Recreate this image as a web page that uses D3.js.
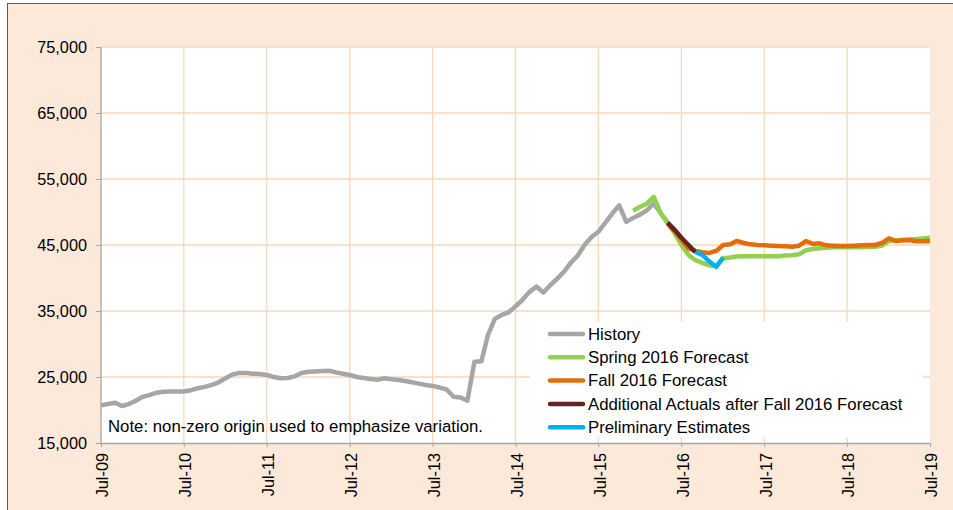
<!DOCTYPE html>
<html>
<head>
<meta charset="utf-8">
<script src="https://cdn.jsdelivr.net/npm/d3@7"></script>
<style>
  body { margin: 0; background: #fff; }
  svg { display: block; font-family: "Liberation Sans", Arial, sans-serif; }
</style>
</head>
<body>
<svg id="chart" width="953" height="510"></svg>
<script>
// Monthly values, first entry of each series is its start month.
const historyStart = [2009, 6];
const history = [
  20700, 20900, 21100, 20600, 20900, 21400, 22000, 22300, 22600, 22750, 22800, 22800,
  22800, 23000, 23300, 23500, 23800, 24200, 24800, 25400, 25600, 25600, 25500, 25450,
  25300, 25000, 24800, 24850, 25100, 25600, 25800, 25850, 25900, 25950, 25700, 25500,
  25300, 25000, 24850, 24700, 24600, 24800, 24650, 24550, 24400, 24200, 24000, 23800,
  23650, 23400, 23100, 22000, 21900, 21400, 27300, 27400, 31300, 33800, 34400, 34800,
  35700, 36700, 37900, 38700, 37800, 38900, 39900, 41000, 42300, 43400, 45000, 46200,
  47000, 48400, 49800, 51000, 48500, 49100, 49600, 50300, 51300, 49800, 48500
];

const springStart = [2015, 11];
const springForecast = [
  50200, 50800, 51300, 52300, 49800, 48300, 46800, 45000, 43500, 42700, 42300, 41900,
  41800, 43000, 43100, 43250, 43300, 43300, 43300, 43300, 43300, 43300, 43400, 43450,
  43600, 44200, 44400, 44500, 44600, 44650, 44650, 44650, 44650, 44650, 44700, 44750,
  44900, 45600, 45700, 45800, 45850, 45900, 46000, 46100
];

const fallStart = [2016, 4];
const fallForecast = [
  48300, 47100, 45800, 44500, 44100, 43900, 43800, 44100, 45000, 45100, 45600, 45300,
  45100, 45000, 44950, 44900, 44850, 44800, 44750, 44900, 45600, 45150, 45250, 44950,
  44900, 44850, 44850, 44900, 44950, 45000, 45000, 45300, 46000, 45600, 45700, 45750,
  45550, 45550, 45600
];

const actualsStart = [2016, 4];
const additionalActuals = [48400, 47300, 46100, 45000, 43900];

const prelimStart = [2016, 8];
const preliminary = [43900, 43500, 42500, 41700, 43100];

const yTicks = [15000, 25000, 35000, 45000, 55000, 65000, 75000];
const xTickYears = [2009, 2010, 2011, 2012, 2013, 2014, 2015, 2016, 2017, 2018, 2019];

const seriesList = [
  { name: 'History', start: historyStart, values: history, color: '#a6a6a6' },
  { name: 'Spring 2016 Forecast', start: springStart, values: springForecast, color: '#92d050' },
  { name: 'Fall 2016 Forecast', start: fallStart, values: fallForecast, color: '#e46c0a' },
  { name: 'Additional Actuals after Fall 2016 Forecast', start: actualsStart, values: additionalActuals, color: '#632523' },
  { name: 'Preliminary Estimates', start: prelimStart, values: preliminary, color: '#00b0f0' }
];

const svg = d3.select('#chart');
const margin = { left: 101, right: 23, top: 47, bottom: 67 };
const width = 953, height = 510;

// Outer frame
svg.append('rect')
  .attr('x', 7.5).attr('y', 3.5)
  .attr('width', width + 10).attr('height', height + 10)
  .attr('fill', '#fde9d9')
  .attr('stroke', '#595959');

let x = d3.scaleTime()
  .domain([new Date(2009, 6, 1), new Date(2019, 6, 1)])
  .range([margin.left, width - margin.right]);

let y = d3.scaleLinear()
  .domain([15000, 75000])
  .range([height - margin.bottom, margin.top]);

// Plot area
svg.append('rect')
  .attr('x', margin.left).attr('y', margin.top)
  .attr('width', x.range()[1] - margin.left)
  .attr('height', y.range()[0] - margin.top)
  .attr('fill', '#fff');

let xTicks = xTickYears.map(yr => new Date(yr, 6, 1));

// Gridlines
svg.append('g')
  .selectAll('line')
  .data(yTicks.slice(1))
  .join('line')
    .attr('x1', margin.left).attr('x2', x.range()[1])
    .attr('y1', d => y(d)).attr('y2', d => y(d))
    .attr('stroke', '#fbd7b9').attr('stroke-width', 1.3);

svg.append('g')
  .selectAll('line')
  .data(xTicks.slice(1, -1))
  .join('line')
    .attr('x1', d => x(d)).attr('x2', d => x(d))
    .attr('y1', margin.top).attr('y2', y.range()[0])
    .attr('stroke', '#fbd7b9').attr('stroke-width', 1.3);

// Axes
let yAxis = svg.append('g')
  .attr('transform', `translate(${margin.left},0)`)
  .call(d3.axisLeft(y).tickValues(yTicks).tickSize(5).tickPadding(9)
    .tickFormat(d3.format(',')));

let xAxis = svg.append('g')
  .attr('transform', `translate(0,${y.range()[0]})`)
  .call(d3.axisBottom(x).tickValues(xTicks).tickSize(4).tickSizeOuter(0)
    .tickFormat(d3.timeFormat('%b-%y')));

[yAxis, xAxis].forEach(a => {
  a.select('.domain').attr('stroke', '#a6a6a6').attr('stroke-width', 1.3);
  a.selectAll('.tick line').attr('stroke', '#a6a6a6');
  a.selectAll('text').attr('fill', '#000').style('font-size', '16.3px')
    .style('font-family', '"Liberation Sans", Arial, sans-serif');
});
yAxis.select('.domain').attr('d', `M-0,${margin.top}V${y.range()[0]}`);

xAxis.selectAll('text')
  .attr('transform', 'rotate(-90)')
  .attr('text-anchor', 'end')
  .attr('x', -10)
  .attr('y', 1)
  .attr('dy', '0.35em');

// Note
svg.append('text')
  .attr('x', 108).attr('y', 432)
  .style('font-size', '16.8px')
  .text('Note: non-zero origin used to emphasize variation.');

// Lines
let line = d3.line()
  .x(d => x(d.date))
  .y(d => y(d.value));

for (let s of seriesList) {
  let pts = s.values.map((v, i) => ({ date: new Date(s.start[0], s.start[1] + i, 1), value: v }));
  svg.append('path')
    .datum(pts)
    .attr('fill', 'none')
    .attr('stroke', s.color)
    .attr('stroke-width', 4.5)
    .attr('stroke-linejoin', 'round')
    .attr('d', line);
}

// Legend
let legend = svg.append('g');
legend.append('rect')
  .attr('x', 530).attr('y', 322)
  .attr('width', 393).attr('height', 115)
  .attr('fill', '#fff');

let rows = legend.selectAll('g.row')
  .data(seriesList)
  .join('g')
    .attr('class', 'row')
    .attr('transform', (d, i) => `translate(550,${334 + i * 23.3})`);

rows.append('line')
  .attr('x1', 0).attr('x2', 33)
  .attr('stroke', d => d.color)
  .attr('stroke-width', 4.5)
  .attr('stroke-linecap', 'round');

rows.append('text')
  .attr('x', 38)
  .attr('dy', '0.35em')
  .style('font-size', '16.8px')
  .text(d => d.name);
</script>
</body>
</html>
